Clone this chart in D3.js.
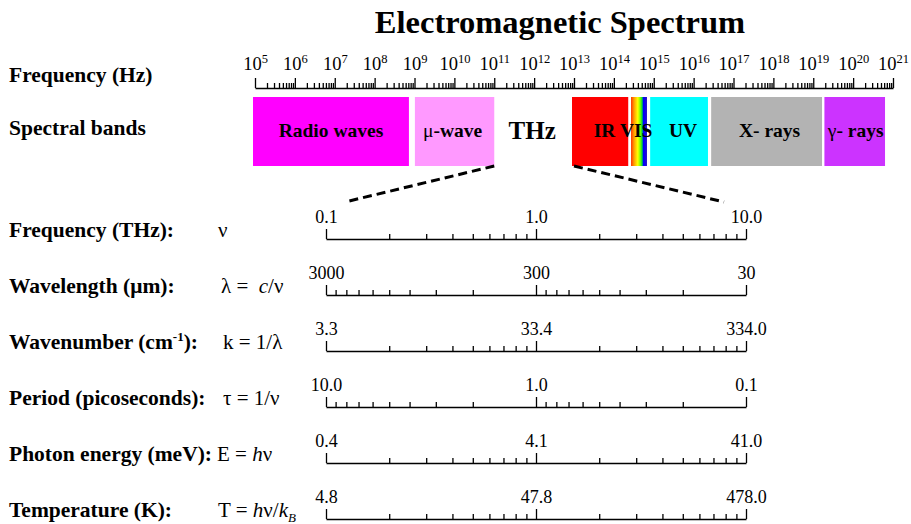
<!DOCTYPE html>
<html>
<head>
<meta charset="utf-8">
<script src="https://cdn.jsdelivr.net/npm/d3@7/dist/d3.min.js"></script>
<style>
  body { margin: 0; background: #fff; }
  text { font-family: "Liberation Serif", "Times New Roman", Times, serif; fill: #000; white-space: pre; }
</style>
</head>
<body>
<svg id="chart" width="911" height="524"></svg>
<script>
// ---- data ----
const chartTitle = "Electromagnetic Spectrum";

// decades on the frequency (Hz) axis
const freqExponents = [5, 6, 7, 8, 9, 10, 11, 12, 13, 14, 15, 16, 17, 18, 19, 20, 21];

// spectral bands: log10 of start / end frequency (Hz)
const bandNames  = ["Radio waves", "μ-wave", "IR", "VIS", "UV", "X- rays", "γ- rays"];
const bandStart  = [4.95, 9.01, 12.95, 14.43, 14.91, 16.44, 19.28];
const bandEnd    = [8.86, 11.0, 14.36, 14.83, 16.36, 19.22, 20.8];
const bandColors = ["#ff00ff", "#ff99ff", "#ff0000", "url(#visGrad)", "#00ffff", "#b3b3b3", "#cc33ff"];

// THz window (Hz)
const thzWindow = [1e11, 1e13];

// conversion rows
const rowNames = ["Frequency (THz):", "Wavelength (μm):", "Wavenumber (cm-1):",
                  "Period (picoseconds):", "Photon energy (meV):", "Temperature (K):"];
const rowValues = [
  [0.1, 1, 10],
  [3000, 300, 30],
  [3.34, 33.4, 334],
  [10, 1, 0.1],
  [0.41, 4.1, 41],
  [4.78, 47.8, 478]
];
const rowTickLabels = [
  ["0.1", "1.0", "10.0"],
  ["3000", "300", "30"],
  ["3.3", "33.4", "334.0"],
  ["10.0", "1.0", "0.1"],
  ["0.4", "4.1", "41.0"],
  ["4.8", "47.8", "478.0"]
];

// ---- drawing ----
const svg = d3.select("#chart");
const defs = svg.append("defs");
const grad = defs.append("linearGradient").attr("id", "visGrad")
  .attr("x1", "0%").attr("x2", "100%").attr("y1", "0%").attr("y2", "0%");
[["0%", "#ff3300"], ["18%", "#ff9900"], ["42%", "#ffff00"], ["60%", "#66ff00"],
 ["70%", "#00cc44"], ["78%", "#0000ff"], ["100%", "#2a10c8"]]
  .forEach(([o, c]) => grad.append("stop").attr("offset", o).attr("stop-color", c));

// title
svg.append("text")
  .attr("x", 560).attr("y", 33)
  .attr("text-anchor", "middle")
  .attr("font-size", 32.5).attr("font-weight", "bold")
  .text(chartTitle);

// left-hand headings for the top part
svg.append("text").attr("x", 9).attr("y", 82)
  .attr("font-size", 21.5).attr("font-weight", "bold").text("Frequency (Hz)");
svg.append("text").attr("x", 9).attr("y", 135)
  .attr("font-size", 21.5).attr("font-weight", "bold").text("Spectral bands");

// frequency axis (Hz)
const xHz = d3.scaleLog().domain([1e5, 1e21]).range([255, 893]);
const hzAxisY = 88;

const hzMinor = [];
freqExponents.slice(0, -1).forEach(e => {
  for (let k = 2; k <= 9; k++) hzMinor.push(k * Math.pow(10, e));
});
const hzMajor = freqExponents.map(e => Math.pow(10, e));

const gHzMinor = svg.append("g").attr("transform", `translate(0,${hzAxisY})`)
  .call(d3.axisTop(xHz).tickValues(hzMinor).tickSize(5).tickSizeOuter(0).tickFormat(""));
const gHzMajor = svg.append("g").attr("transform", `translate(0,${hzAxisY})`)
  .call(d3.axisTop(xHz).tickValues(hzMajor).tickSize(10).tickPadding(8).tickFormat(""));
gHzMajor.select(".domain").remove();
gHzMajor.selectAll(".tick text").each(function (d) {
  const t = d3.select(this);
  t.text("10");
  t.append("tspan").attr("dy", -7).attr("font-size", 12.5)
    .text(Math.round(Math.log10(d)));
});
[gHzMinor, gHzMajor].forEach(g => {
  g.attr("font-family", null).attr("font-size", 18.5);
  g.selectAll("line").attr("stroke", "#000").attr("stroke-width", 1.3);
  g.selectAll(".domain").attr("stroke", "#000").attr("stroke-width", 1.5);
});

// spectral band blocks
const bandTop = 97, bandBottom = 166;
const bands = bandNames.map((n, i) => ({ name: n, s: bandStart[i], e: bandEnd[i], c: bandColors[i] }));
svg.append("g").selectAll("rect").data(bands).join("rect")
  .attr("x", d => xHz(Math.pow(10, d.s)))
  .attr("width", d => xHz(Math.pow(10, d.e)) - xHz(Math.pow(10, d.s)))
  .attr("y", bandTop).attr("height", bandBottom - bandTop)
  .attr("fill", d => d.c);

// band labels
const labelY = 137;
function bandCenter(i) {
  return (xHz(Math.pow(10, bandStart[i])) + xHz(Math.pow(10, bandEnd[i]))) / 2;
}
function addBandLabel(x, parts) {
  const t = svg.append("text").attr("x", x).attr("y", labelY)
    .attr("text-anchor", "middle").attr("font-size", 19.5).attr("font-weight", "bold");
  parts.forEach(([s, w]) => t.append("tspan").attr("font-weight", w || "bold").text(s));
}
addBandLabel(bandCenter(0), [[bandNames[0]]]);
addBandLabel(bandCenter(1) - 2, [["μ", "normal"], ["-wave"]]);
addBandLabel(bandCenter(2) + 23, [[bandNames[2] + " " + bandNames[3]]]);
addBandLabel(bandCenter(4) + 4, [[bandNames[4]]]);
addBandLabel(bandCenter(5) + 3, [[bandNames[5]]]);
addBandLabel(bandCenter(6) + 1, [["γ", "normal"], ["- rays"]]);

svg.append("text")
  .attr("x", (xHz(thzWindow[0]) + xHz(thzWindow[1])) / 2 - 2).attr("y", 139)
  .attr("text-anchor", "middle").attr("font-size", 25).attr("font-weight", "bold")
  .text("THz");

// conversion rows
const axisX0 = 326, axisX1 = 746;
const firstAxisY = 239, rowStep = 56;

// dashed connectors from the THz window to the THz axis
svg.append("g").selectAll("line")
  .data([[xHz(thzWindow[0]), axisX0 + 19], [xHz(thzWindow[1]), axisX1 - 22]])
  .join("line")
  .attr("x1", d => d[0]).attr("y1", bandBottom)
  .attr("x2", d => d[1]).attr("y2", firstAxisY - 37)
  .attr("stroke", "#000").attr("stroke-width", 3)
  .attr("stroke-dasharray", "9,5");

// formulas (segments: text, style)
const formulas = [
  [["ν"]],
  [["λ =  "], ["c", "i"], ["/ν"]],
  [["k = 1/λ"]],
  [["τ = 1/ν"]],
  [["E = "], ["h", "i"], ["ν"]],
  [["T = "], ["h", "i"], ["ν/"], ["k", "i"], ["B", "sub"]]
];
const formulaIndent = [0, 3, 5, 5, -1, 0];

rowNames.forEach((name, i) => {
  const y = firstAxisY + i * rowStep;

  // heading
  const lab = svg.append("text").attr("x", 9).attr("y", y - 2)
    .attr("font-size", 21.5).attr("font-weight", "bold");
  if (name.includes("cm-1")) {
    lab.append("tspan").text("Wavenumber (cm");
    lab.append("tspan").attr("dy", -8).attr("font-size", 13).text("-1");
    lab.append("tspan").attr("dy", 8).text("):");
  } else {
    lab.text(name);
  }

  // formula
  const f = svg.append("text").attr("x", 218 + formulaIndent[i]).attr("y", y - 2).attr("font-size", 21);
  formulas[i].forEach(([s, st]) => {
    const ts = f.append("tspan").text(s);
    if (st === "i") ts.attr("font-style", "italic");
    if (st === "sub") ts.attr("font-style", "italic").attr("font-size", 13).attr("dy", 5);
  });

  // scale and ticks
  const vals = rowValues[i];
  const sc = d3.scaleLog().domain([vals[0], vals[2]]).range([axisX0, axisX1]);
  const minor = [];
  for (let j = 0; j < 2; j++) {
    const lo = Math.min(vals[j], vals[j + 1]);
    for (let k = 2; k <= 9; k++) minor.push(lo * k);
  }
  const gMin = svg.append("g").attr("transform", `translate(0,${y})`)
    .call(d3.axisTop(sc).tickValues(minor).tickSize(5).tickSizeOuter(0).tickFormat(""));
  const gMaj = svg.append("g").attr("transform", `translate(0,${y})`)
    .call(d3.axisTop(sc).tickValues(vals).tickSize(10).tickPadding(6)
      .tickFormat((d, k) => rowTickLabels[i][k]));
  gMaj.select(".domain").remove();
  [gMin, gMaj].forEach(g => {
    g.attr("font-family", null).attr("font-size", 18);
    g.selectAll("line").attr("stroke", "#000").attr("stroke-width", 1.3);
    g.selectAll(".domain").attr("stroke", "#000").attr("stroke-width", 1.5);
  });
});
</script>
</body>
</html>
